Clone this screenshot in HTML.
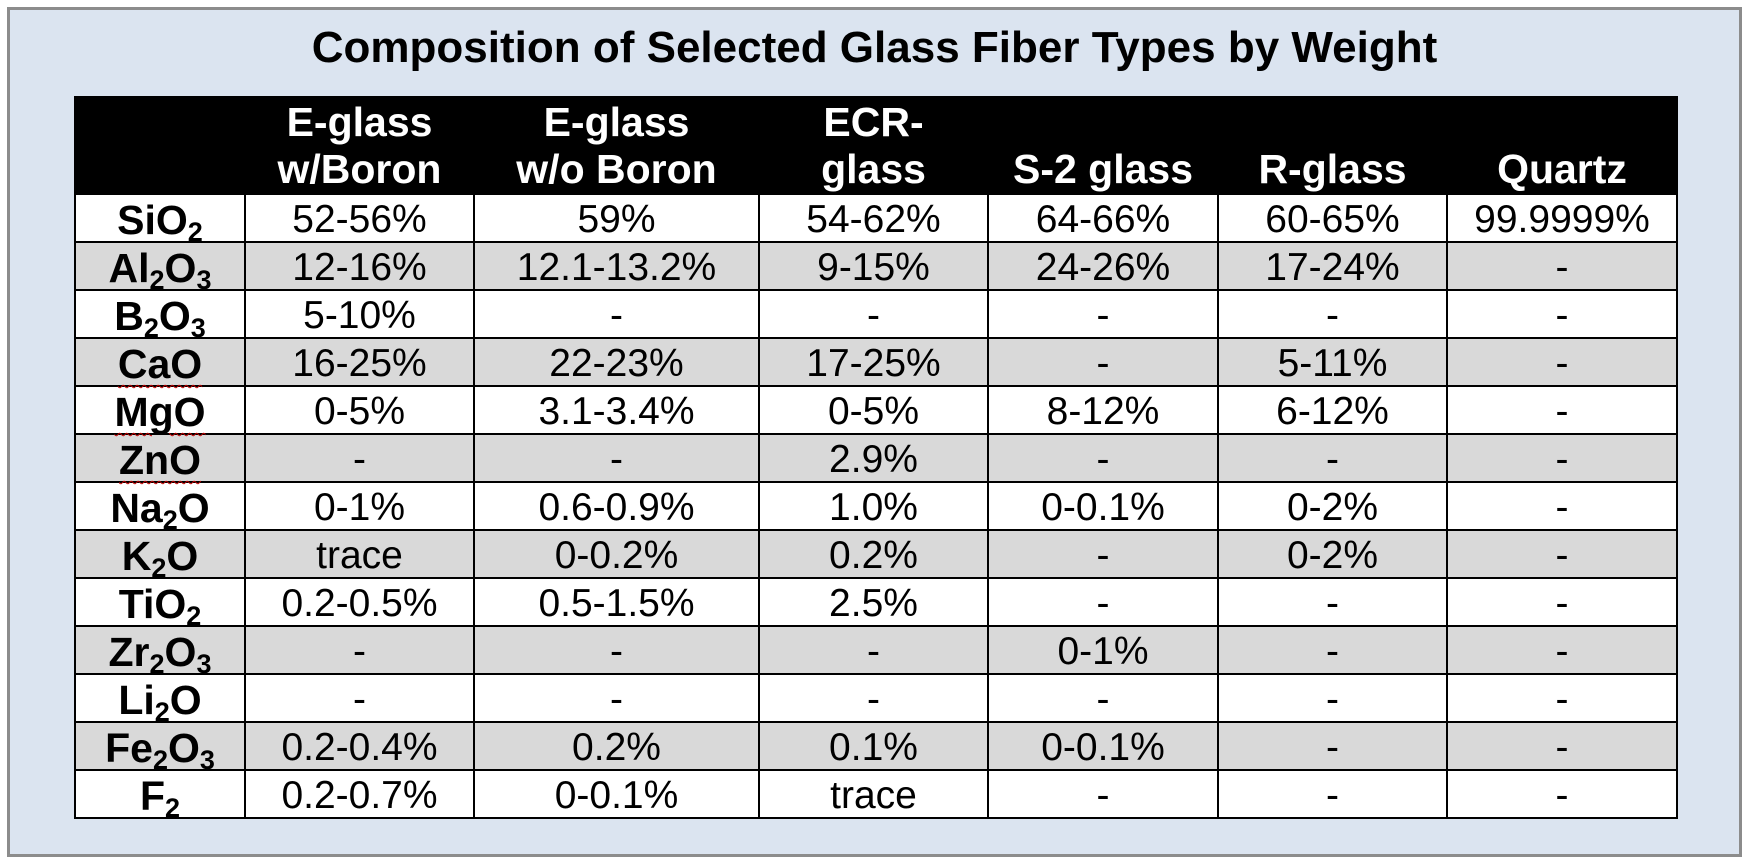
<!DOCTYPE html>
<html><head><meta charset="utf-8">
<style>
html,body{margin:0;padding:0;background:#fff;width:1749px;height:863px;overflow:hidden;font-family:"Liberation Sans",Arial,sans-serif;}
#frame{position:absolute;left:7px;top:7px;width:1729px;height:844px;background:#dbe4f0;border:3px solid #8c8c8c;}
#title{position:absolute;left:0;width:1749px;text-align:center;top:23px;font-size:44px;font-weight:bold;color:#000;}
table{position:absolute;left:74px;top:96px;border-collapse:collapse;table-layout:fixed;}
td,th{border:2px solid #000;padding:0;text-align:center;color:#000;}
th{background:#000;color:#fff;font-size:41px;font-weight:bold;height:95px;line-height:47px;vertical-align:bottom;}
td{font-size:39px;height:42px;line-height:42px;padding-top:4px;}
td.l{font-weight:bold;font-size:41px;}
tr.g td{background:#d9d9d9;}
tr.w td{background:#fff;}
sub{font-size:27px;vertical-align:-7px;line-height:0;}
.sq{text-decoration:underline wavy #c00000;text-decoration-thickness:1px;text-underline-offset:6px;}
</style></head><body>
<div id="frame"></div>
<div id="title">Composition of Selected Glass Fiber Types by Weight</div>
<table>
<colgroup><col style="width:170px"><col style="width:229px"><col style="width:285px"><col style="width:229px"><col style="width:230px"><col style="width:229px"><col style="width:230px"></colgroup>
<tr><th></th><th>E-glass<br>w/Boron</th><th>E-glass<br>w/o Boron</th><th>ECR-<br>glass</th><th>S-2 glass</th><th>R-glass</th><th>Quartz</th></tr>
<tr class="w"><td class="l">SiO<sub>2</sub></td><td>52-56%</td><td>59%</td><td>54-62%</td><td>64-66%</td><td>60-65%</td><td>99.9999%</td></tr>
<tr class="g"><td class="l">Al<sub>2</sub>O<sub>3</sub></td><td>12-16%</td><td>12.1-13.2%</td><td>9-15%</td><td>24-26%</td><td>17-24%</td><td>-</td></tr>
<tr class="w"><td class="l">B<sub>2</sub>O<sub>3</sub></td><td>5-10%</td><td>-</td><td>-</td><td>-</td><td>-</td><td>-</td></tr>
<tr class="g"><td class="l"><span class="sq">CaO</span></td><td>16-25%</td><td>22-23%</td><td>17-25%</td><td>-</td><td>5-11%</td><td>-</td></tr>
<tr class="w"><td class="l"><span class="sq">MgO</span></td><td>0-5%</td><td>3.1-3.4%</td><td>0-5%</td><td>8-12%</td><td>6-12%</td><td>-</td></tr>
<tr class="g"><td class="l"><span class="sq">ZnO</span></td><td>-</td><td>-</td><td>2.9%</td><td>-</td><td>-</td><td>-</td></tr>
<tr class="w"><td class="l">Na<sub>2</sub>O</td><td>0-1%</td><td>0.6-0.9%</td><td>1.0%</td><td>0-0.1%</td><td>0-2%</td><td>-</td></tr>
<tr class="g"><td class="l">K<sub>2</sub>O</td><td>trace</td><td>0-0.2%</td><td>0.2%</td><td>-</td><td>0-2%</td><td>-</td></tr>
<tr class="w"><td class="l">TiO<sub>2</sub></td><td>0.2-0.5%</td><td>0.5-1.5%</td><td>2.5%</td><td>-</td><td>-</td><td>-</td></tr>
<tr class="g"><td class="l">Zr<sub>2</sub>O<sub>3</sub></td><td>-</td><td>-</td><td>-</td><td>0-1%</td><td>-</td><td>-</td></tr>
<tr class="w"><td class="l">Li<sub>2</sub>O</td><td>-</td><td>-</td><td>-</td><td>-</td><td>-</td><td>-</td></tr>
<tr class="g"><td class="l">Fe<sub>2</sub>O<sub>3</sub></td><td>0.2-0.4%</td><td>0.2%</td><td>0.1%</td><td>0-0.1%</td><td>-</td><td>-</td></tr>
<tr class="w"><td class="l">F<sub>2</sub></td><td>0.2-0.7%</td><td>0-0.1%</td><td>trace</td><td>-</td><td>-</td><td>-</td></tr>
</table>
</body></html>
